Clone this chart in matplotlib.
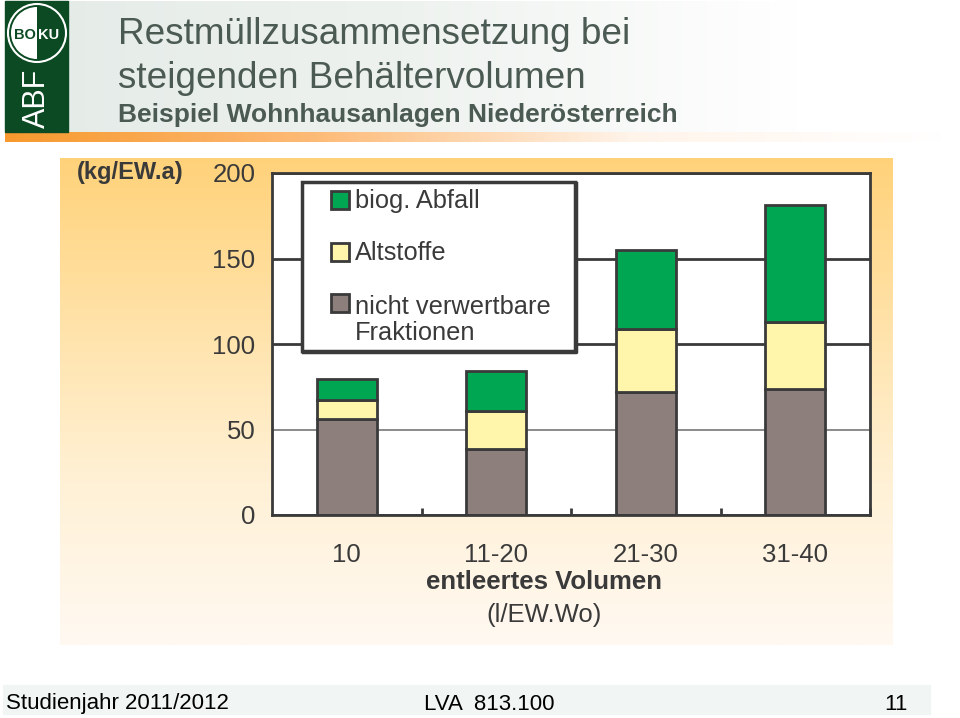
import numpy as np
import matplotlib
matplotlib.use("Agg")
import matplotlib.pyplot as plt
from matplotlib.colors import LinearSegmentedColormap
from matplotlib.patches import Rectangle, Circle, Wedge

plt.rcParams['font.family'] = ['Liberation Sans', 'DejaVu Sans']

categories = ["10", "11-20", "21-30", "31-40"]
rest = [56, 38.5, 72, 73.5]
altstoffe = [11, 22.5, 37, 39.5]
biog = [12.5, 23, 46, 68]
y_ticks = [0, 50, 100, 150, 200]
legend_labels = ["biog. Abfall", "Altstoffe", "nicht verwertbare\nFraktionen"]

DARK = "#3a3a3a"
TITLE = "#4b5a52"
GREEN = "#00a651"
YELLOW = "#fff6ab"
GREY = "#8d7f7b"

fig = plt.figure(figsize=(9.6, 7.18), dpi=100, facecolor="white")

# background layer in pixel coordinates
bg = fig.add_axes([0, 0, 1, 1])
bg.axis("off")


def gradient(colors, extent, vertical=False):
    cmap = LinearSegmentedColormap.from_list("g", colors)
    g = np.linspace(0, 1, 256)
    g = g[:, None] if vertical else g[None, :]
    bg.imshow(g, cmap=cmap, extent=extent, aspect="auto", zorder=1)


gradient(["#e4ebe7", "#eef2ef", "#ffffff"], (5, 800, 132, 1))
gradient(["#f7992e", "#fdbb78", "#fff4ea", "#ffffff"], (5, 945, 142, 132))
gradient(["#ffd27a", "#ffe2a8", "#fff1d6", "#fff9f2"], (60, 893, 645, 158), vertical=True)
bg.add_patch(Rectangle((3, 685), 927, 29, color="#f1f5f4", zorder=1))
bg.set_xlim(0, 960)
bg.set_ylim(718, 0)

# logo
bg.add_patch(Rectangle((5, 1), 63, 131, color="#0b4a22", zorder=2))
bg.add_patch(Circle((37, 33), 29, fc="#0b4a22", ec="white", lw=1.5, zorder=3))
bg.add_patch(Wedge((37, 33), 26, 90, 270, fc="white", zorder=4))
bg.text(25, 35, "BO", color="#0b4a22", fontsize=10.5, fontweight="bold",
        ha="center", va="center", zorder=5)
bg.text(49, 35, "KU", color="white", fontsize=10.5, fontweight="bold",
        ha="center", va="center", zorder=5)
bg.text(37, 98, "ABF", color="white", fontsize=22, rotation=90,
        ha="center", va="center", zorder=5)

# heading
bg.text(118, 34, "Restmüllzusammensetzung bei", color=TITLE, fontsize=26.6, va="center", zorder=5)
bg.text(118, 79, "steigenden Behältervolumen", color=TITLE, fontsize=26.6, va="center", zorder=5)
bg.text(118, 115, "Beispiel Wohnhausanlagen Niederösterreich", color=TITLE, fontsize=19,
        fontweight="bold", va="center", zorder=5)

# footer
bg.text(6, 704, "Studienjahr 2011/2012", color="black", fontsize=16, va="center", zorder=5)
bg.text(424, 704, "LVA  813.100", color="black", fontsize=16, va="center", zorder=5)
bg.text(908, 704, "11", color="black", fontsize=16, ha="right", va="center", zorder=5)

# chart
ax = fig.add_axes([272 / 960, 1 - 515 / 718, 598 / 960, 342 / 718], facecolor="white")
x = np.arange(len(categories))
bottom2 = np.array(rest) + np.array(altstoffe)
ax.set_axisbelow(True)
ax.yaxis.grid(True, color=DARK, lw=2)
ax.bar(x, rest, width=0.4, color=GREY, edgecolor=DARK, lw=2)
ax.bar(x, altstoffe, width=0.4, bottom=rest, color=YELLOW, edgecolor=DARK, lw=2)
ax.bar(x, biog, width=0.4, bottom=bottom2, color=GREEN, edgecolor=DARK, lw=2)
ax.set_xlim(-0.5, 3.5)
ax.set_ylim(0, 200)
ax.set_yticks(y_ticks)
ax.get_ygridlines()[1].set(lw=1.2, color="#777777")
ax.set_xticks(x + 0.5, minor=True)
ax.set_xticks(x)
ax.set_xticklabels(categories)
ax.tick_params(axis="x", which="major", length=0, pad=20, labelsize=18.5, labelcolor=DARK)
ax.tick_params(axis="x", which="minor", length=5, width=2, color=DARK, direction="in")
ax.tick_params(axis="y", length=0, pad=12, labelsize=18.5, labelcolor=DARK)
for s in ax.spines.values():
    s.set_color(DARK)
    s.set_linewidth(2)

fig.text(544 / 960, 1 - 582 / 718, "entleertes Volumen", fontsize=18.5, fontweight="bold",
         color=DARK, ha="center", va="center")
fig.text(544 / 960, 1 - 615 / 718, "(l/EW.Wo)", fontsize=18.5, color=DARK, ha="center", va="center")
fig.text(130 / 960, 1 - 172 / 718, "(kg/EW.a)", fontsize=17, fontweight="bold", color=DARK,
         ha="center", va="center")

# legend box, on its own layer in pixel coordinates
top = fig.add_axes([0, 0, 1, 1], zorder=10)
top.axis("off")
top.set_xlim(0, 960)
top.set_ylim(718, 0)
top.add_patch(Rectangle((302, 182), 273, 169, fc="white", ec=DARK, lw=2.5))
top.plot([303, 576, 576], [352, 352, 183], color=DARK, lw=2.5)
for y_pos, color, label in zip([200, 252, 303], [GREEN, YELLOW, GREY], legend_labels):
    top.add_patch(Rectangle((331, y_pos - 9), 18, 18, fc=color, ec=DARK, lw=2))
    top.text(355, y_pos - 8 if "\n" in label else y_pos + 1, label, fontsize=18.3, color=DARK,
             va="top" if "\n" in label else "center", linespacing=1.1)

fig.savefig("out.png", dpi=100)
